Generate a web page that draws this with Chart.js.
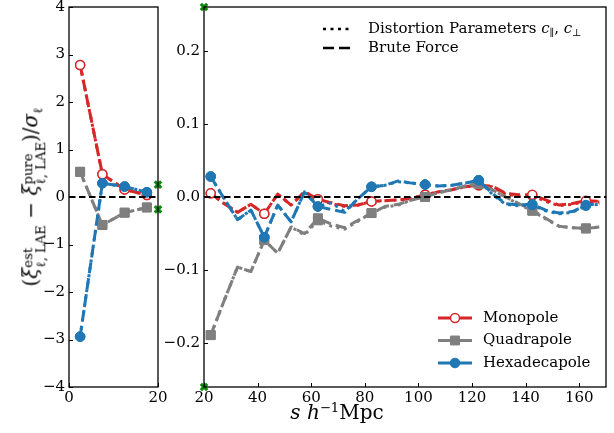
<!DOCTYPE html>
<html>
<head>
<meta charset="utf-8">
<script src="https://cdn.jsdelivr.net/npm/chart.js@4.4.1/dist/chart.umd.min.js"></script>
<style>
  body { margin: 0; background: #fff; }
  #wrap { position: relative; width: 614px; height: 433px; overflow: hidden; font-family: "DejaVu Serif", serif; }
  canvas { position: absolute; top: 0; }
  #ylab {
    position: absolute; left: 33px; top: 197px; white-space: nowrap;
    transform: translate(-50%, -50%) rotate(-90deg); font-size: 20px; color: #000;
  }
  #ylab .ss { display: inline-block; vertical-align: -0.62em; line-height: 1.0; font-size: 0.66em; text-align: left; }
  #ylab .ss span { display: block; }
  #ylab sub { font-size: 0.66em; }
  #xlab { position: absolute; left: 337px; top: 412px; transform: translate(-50%, -50%); white-space: nowrap; font-size: 20px; }
  #xlab sup { font-size: 0.66em; }
</style>
</head>
<body>
<div id="wrap">
  <canvas id="left" width="200" height="433" style="left:0"></canvas>
  <canvas id="right" width="464" height="433" style="left:150px"></canvas>
  <div id="ylab">(<i>ξ</i><span class="ss"><span>est</span><span>ℓ, LAE</span></span> − <i>ξ</i><span class="ss"><span>pure</span><span>ℓ, LAE</span></span>)/<i>σ</i><sub>ℓ</sub></div>
  <div id="xlab"><i>s</i> <i>h</i><sup>−1</sup>Mpc</div>
</div>
<script>
// bins of the small-scale panel
const sLeft = [2.5, 7.5, 12.5, 17.5];
const monoLeftDist = [2.78, 0.48, 0.16, 0.04];
const monoLeftBrute = [2.78, 0.48, 0.16, 0.04];
const quadLeftDist = [0.53, -0.59, -0.33, -0.22];
const quadLeftBrute = [0.53, -0.59, -0.33, -0.22];
const hexLeftDist = [-2.94, 0.29, 0.22, 0.10];
const hexLeftBrute = [-2.94, 0.29, 0.22, 0.10];

// bins of the large-scale panel
const sRight = [22.5, 27.5, 32.5, 37.5, 42.5, 47.5, 52.5, 57.5, 62.5, 67.5,
  72.5, 77.5, 82.5, 87.5, 92.5, 97.5, 102.5, 107.5, 112.5, 117.5,
  122.5, 127.5, 132.5, 137.5, 142.5, 147.5, 152.5, 157.5, 162.5, 167.5];
const monoRightBrute = [0.005, -0.009, -0.021, -0.010, -0.023, 0.004, -0.011, 0.007, -0.003, -0.008,
  -0.012, -0.011, -0.006, -0.005, -0.004, -0.002, 0.003, 0.007, 0.010, 0.014,
  0.016, 0.015, 0.005, 0.003, 0.003, -0.004, -0.011, -0.009, -0.005, -0.006];
const monoRightDist = [0.005, -0.009, -0.021, -0.010, -0.023, 0.004, -0.011, 0.007, -0.003, -0.009,
  -0.013, -0.011, -0.006, -0.005, -0.004, -0.002, 0.003, 0.007, 0.010, 0.014,
  0.016, 0.014, 0.004, 0.001, 0.002, -0.006, -0.012, -0.010, -0.006, -0.007];
const quadRightBrute = [-0.189, -0.142, -0.096, -0.102, -0.059, -0.077, -0.041, -0.050, -0.029, -0.037,
  -0.042, -0.032, -0.022, -0.013, -0.010, -0.004, 0.000, 0.006, 0.010, 0.015,
  0.018, 0.010, 0.000, -0.009, -0.018, -0.029, -0.040, -0.042, -0.043, -0.041];
const quadRightDist = [-0.189, -0.142, -0.096, -0.102, -0.059, -0.077, -0.041, -0.052, -0.032, -0.040,
  -0.044, -0.033, -0.022, -0.014, -0.011, -0.004, 0.000, 0.006, 0.010, 0.015,
  0.018, 0.010, 0.000, -0.010, -0.019, -0.030, -0.040, -0.042, -0.043, -0.041];
const hexRightBrute = [0.028, -0.002, -0.031, -0.018, -0.055, -0.011, -0.034, 0.007, -0.013, -0.017,
  -0.021, -0.002, 0.014, 0.016, 0.022, 0.019, 0.017, 0.015, 0.016, 0.019,
  0.023, 0.005, -0.009, -0.011, -0.010, -0.018, -0.022, -0.020, -0.011, -0.009];
const hexRightDist = [0.028, -0.002, -0.031, -0.018, -0.055, -0.011, -0.034, 0.007, -0.013, -0.008,
  -0.020, -0.002, 0.014, 0.016, 0.021, 0.019, 0.017, 0.015, 0.016, 0.019,
  0.023, 0.004, -0.010, -0.012, -0.011, -0.019, -0.023, -0.021, -0.012, -0.010];

// marker showing the zoomed y range of the right panel
const zoomMarkX = [20, 20];
const zoomMarkY = [0.26, -0.26];

const xTicksLeft = [0, 20];
const yTicksLeft = [-4, -3, -2, -1, 0, 1, 2, 3, 4];
const xTicksRight = [20, 40, 60, 80, 100, 120, 140, 160];
const yTicksRight = [-0.2, -0.1, 0.0, 0.1, 0.2];

const seriesNames = ['Monopole', 'Quadrapole', 'Hexadecapole'];

const styles = {
  mono: { color: '#d62728', pointStyle: 'circle', radius: 4.5, fill: '#ffffff', bw: 1.5 },
  quad: { color: '#7f7f7f', pointStyle: 'rect', radius: 6.3, fill: '#7f7f7f', bw: 1 },
  hex: { color: '#1f77b4', pointStyle: 'circle', radius: 4.8, fill: '#1f77b4', bw: 1 }
};
const DASHED = [11, 5];
const DOTTED = [3, 4.5];

function pts(xs, ys) {
  return xs.map((x, i) => ({ x: x, y: ys[i] }));
}

function lineSet(xs, ys, st, dash, every) {
  return {
    data: pts(xs, ys),
    borderColor: st.color,
    borderWidth: 3,
    borderDash: dash,
    borderCapStyle: 'butt',
    borderJoinStyle: 'round',
    tension: 0,
    pointStyle: st.pointStyle,
    pointBackgroundColor: st.fill,
    pointBorderColor: st.color,
    pointBorderWidth: st.bw,
    pointRadius: c => (c.dataIndex % every === 0 ? st.radius : 0),
    pointHoverRadius: 0
  };
}

function zeroSet(min, max) {
  return {
    data: [{ x: min, y: 0 }, { x: max, y: 0 }],
    borderColor: '#000', borderWidth: 2, borderDash: [6.5, 3.5],
    pointRadius: 0, tension: 0
  };
}

function markSet() {
  return {
    data: pts(zoomMarkX, zoomMarkY),
    showLine: false, clip: false,
    pointStyle: 'crossRot', pointRadius: 4.5, pointBorderWidth: 3.2,
    pointBorderColor: '#0a8a0a', pointBackgroundColor: '#0a8a0a'
  };
}

function minus(v, dec) {
  const s = Math.abs(v).toFixed(dec);
  return v < -1e-9 ? '\u2212' + s : s;
}

// matplotlib-like frame with inward ticks
const frameTicks = {
  id: 'frameTicks',
  afterDatasetsDraw(chart) {
    const ctx = chart.ctx, a = chart.chartArea;
    const xs = chart.scales.x, ys = chart.scales.y;
    ctx.save();
    ctx.strokeStyle = '#000';
    ctx.lineWidth = 1;
    ctx.beginPath();
    xs.ticks.forEach(t => {
      const px = Math.round(xs.getPixelForValue(t.value)) + 0.5;
      ctx.moveTo(px, a.bottom); ctx.lineTo(px, a.bottom - 4);
    });
    ys.ticks.forEach(t => {
      const py = Math.round(ys.getPixelForValue(t.value)) + 0.5;
      ctx.moveTo(a.left, py); ctx.lineTo(a.left + 4, py);
    });
    ctx.stroke();
    ctx.lineWidth = 1.3;
    ctx.strokeRect(a.left, a.top, a.right - a.left, a.bottom - a.top);
    ctx.restore();
  }
};

function makeChart(id, cfg) {
  return new Chart(document.getElementById(id), {
    type: 'line',
    data: { datasets: cfg.datasets },
    options: {
      responsive: false,
      animation: false,
      events: [],
      layout: { autoPadding: false, padding: { left: 0, right: cfg.padRight, top: 7, bottom: 0 } },
      plugins: { legend: { display: false }, tooltip: { enabled: false } },
      scales: {
        x: {
          type: 'linear', min: cfg.xMin, max: cfg.xMax,
          afterBuildTicks: s => { s.ticks = cfg.xTicks.map(v => ({ value: v })); },
          afterFit: s => { s.height = 46; },
          grid: { display: false, drawTicks: false }, border: { display: false },
          ticks: { font: { family: 'DejaVu Serif', size: 15, lineHeight: 1 }, color: '#000', padding: 4, maxRotation: 0, autoSkip: false }
        },
        y: {
          type: 'linear', min: cfg.yMin, max: cfg.yMax,
          afterBuildTicks: s => { s.ticks = cfg.yTicks.map(v => ({ value: v })); },
          afterFit: s => { s.width = cfg.yWidth; s.paddingTop = 0; s.paddingBottom = 0; },
          grid: { display: false, drawTicks: false }, border: { display: false },
          ticks: { font: { family: 'DejaVu Serif', size: 15, lineHeight: 0.5 }, color: '#000', padding: 4, autoSkip: false, callback: cfg.yFmt }
        }
      }
    },
    plugins: [frameTicks].concat(cfg.plugins || [])
  });
}

// left panel, first dataset is drawn on top
makeChart('left', {
  xMin: 0, xMax: 20, yMin: -4, yMax: 4, padRight: 42, yWidth: 69,
  xTicks: xTicksLeft, yTicks: yTicksLeft,
  yFmt: v => minus(v, 0),
  datasets: [
    zeroSet(0, 20),
    markSet(),
    lineSet(sLeft, hexLeftBrute, styles.hex, DASHED, 1),
    lineSet(sLeft, hexLeftDist, styles.hex, DOTTED, 1),
    lineSet(sLeft, quadLeftBrute, styles.quad, DASHED, 1),
    lineSet(sLeft, quadLeftDist, styles.quad, DOTTED, 1),
    lineSet(sLeft, monoLeftBrute, styles.mono, DASHED, 1),
    lineSet(sLeft, monoLeftDist, styles.mono, DOTTED, 1)
  ]
});

// legends of the right panel
const legends = {
  id: 'legends',
  afterDraw(chart) {
    const ctx = chart.ctx;
    ctx.save();
    ctx.fillStyle = '#000';
    ctx.strokeStyle = '#000';
    ctx.textBaseline = 'middle';
    ctx.font = '15px "DejaVu Serif"';
    // method legend
    [[DOTTED, 29], [DASHED, 48]].forEach(([dash, y]) => {
      ctx.setLineDash(dash);
      ctx.lineWidth = 2.5;
      ctx.beginPath(); ctx.moveTo(173, y); ctx.lineTo(201, y); ctx.stroke();
    });
    ctx.setLineDash([]);
    let x = 218;
    ctx.fillText('Distortion Parameters ', x, 29);
    x += ctx.measureText('Distortion Parameters ').width;
    const sub = (main, s) => {
      ctx.font = 'italic 15px "DejaVu Serif"';
      ctx.fillText(main, x, 29);
      x += ctx.measureText(main).width;
      ctx.font = '10px "DejaVu Serif"';
      ctx.fillText(s, x, 33);
      x += ctx.measureText(s).width;
    };
    sub('c', '\u2225');
    ctx.font = '15px "DejaVu Serif"';
    ctx.fillText(', ', x, 29);
    x += ctx.measureText(', ').width;
    sub('c', '\u22a5');
    ctx.font = '15px "DejaVu Serif"';
    ctx.fillText('Brute Force', 218, 48);
    // multipole legend
    [styles.mono, styles.quad, styles.hex].forEach((st, i) => {
      const y = 318 + i * 22.5;
      ctx.strokeStyle = st.color;
      ctx.lineWidth = 3;
      ctx.beginPath(); ctx.moveTo(288, y); ctx.lineTo(322, y); ctx.stroke();
      ctx.fillStyle = st.fill;
      ctx.lineWidth = st.bw;
      Chart.helpers.drawPoint(ctx, { pointStyle: st.pointStyle, radius: st.radius, borderWidth: st.bw, rotation: 0 }, 305, y);
      ctx.fillStyle = '#000';
      ctx.fillText(seriesNames[i], 333, y);
    });
    ctx.restore();
  }
};

makeChart('right', {
  xMin: 20, xMax: 170, yMin: -0.26, yMax: 0.26, padRight: 8, yWidth: 54,
  xTicks: xTicksRight, yTicks: yTicksRight,
  yFmt: v => minus(v, 1),
  plugins: [legends],
  datasets: [
    zeroSet(20, 170),
    markSet(),
    lineSet(sRight, hexRightBrute, styles.hex, DASHED, 4),
    lineSet(sRight, hexRightDist, styles.hex, DOTTED, 4),
    lineSet(sRight, quadRightBrute, styles.quad, DASHED, 4),
    lineSet(sRight, quadRightDist, styles.quad, DOTTED, 4),
    lineSet(sRight, monoRightBrute, styles.mono, DASHED, 4),
    lineSet(sRight, monoRightDist, styles.mono, DOTTED, 4)
  ]
});
</script>
</body>
</html>
